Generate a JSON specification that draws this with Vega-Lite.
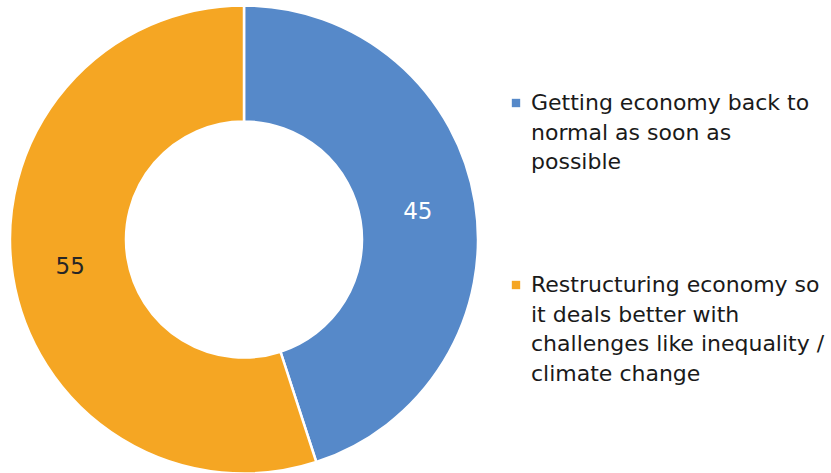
{
  "$schema": "https://vega.github.io/schema/vega-lite/v6.json",
  "width": 488,
  "height": 473,
  "padding": 0,
  "autosize": {"type": "pad"},
  "background": "white",
  "config": {
    "view": {"stroke": null},
    "font": "DejaVu Sans",
    "style": {"guide-label": {"lineHeight": 29.5, "dy": 7}}
  },
  "data": {
    "values": [
      {"cat": "Getting economy back to|normal as soon as|possible", "value": 45, "ord": 1, "labelColor": "white"},
      {"cat": "Restructuring economy so|it deals better with|challenges like inequality /|climate change", "value": 55, "ord": 2, "labelColor": "dark"}
    ]
  },
  "encoding": {
    "theta": {"field": "value", "type": "quantitative", "stack": true},
    "order": {"field": "ord", "type": "quantitative"}
  },
  "layer": [
    {
      "mark": {"type": "arc", "outerRadius": 234, "innerRadius": 118, "stroke": "white", "strokeWidth": 2.5},
      "encoding": {
        "color": {
          "field": "cat",
          "type": "nominal",
          "scale": {
            "domain": ["Getting economy back to|normal as soon as|possible", "Restructuring economy so|it deals better with|challenges like inequality /|climate change"],
            "range": ["#5689C9", "#F5A623"]
          },
          "legend": {
            "title": null,
            "orient": "none",
            "legendX": 505,
            "legendY": 89,
            "symbolType": "square",
            "symbolSize": 70,
            "symbolStrokeWidth": 0,
            "labelFontSize": 22,
            "labelFont": "DejaVu Sans",
            "labelColor": "#1a1a1a",
            "labelLimit": 400,
            "labelExpr": "split(datum.label, '|')",
            "labelBaseline": "alphabetic",
            "labelOffset": 4,
            "rowPadding": 101
          }
        }
      }
    },
    {
      "mark": {"type": "text", "radius": 176, "fontSize": 23, "font": "DejaVu Sans"},
      "encoding": {
        "text": {"field": "value", "type": "quantitative"},
        "color": {
          "field": "labelColor",
          "type": "nominal",
          "scale": {"domain": ["white", "dark"], "range": ["#ffffff", "#262626"]},
          "legend": null
        }
      }
    }
  ],
  "resolve": {"scale": {"color": "independent"}, "legend": {"color": "independent"}}
}
